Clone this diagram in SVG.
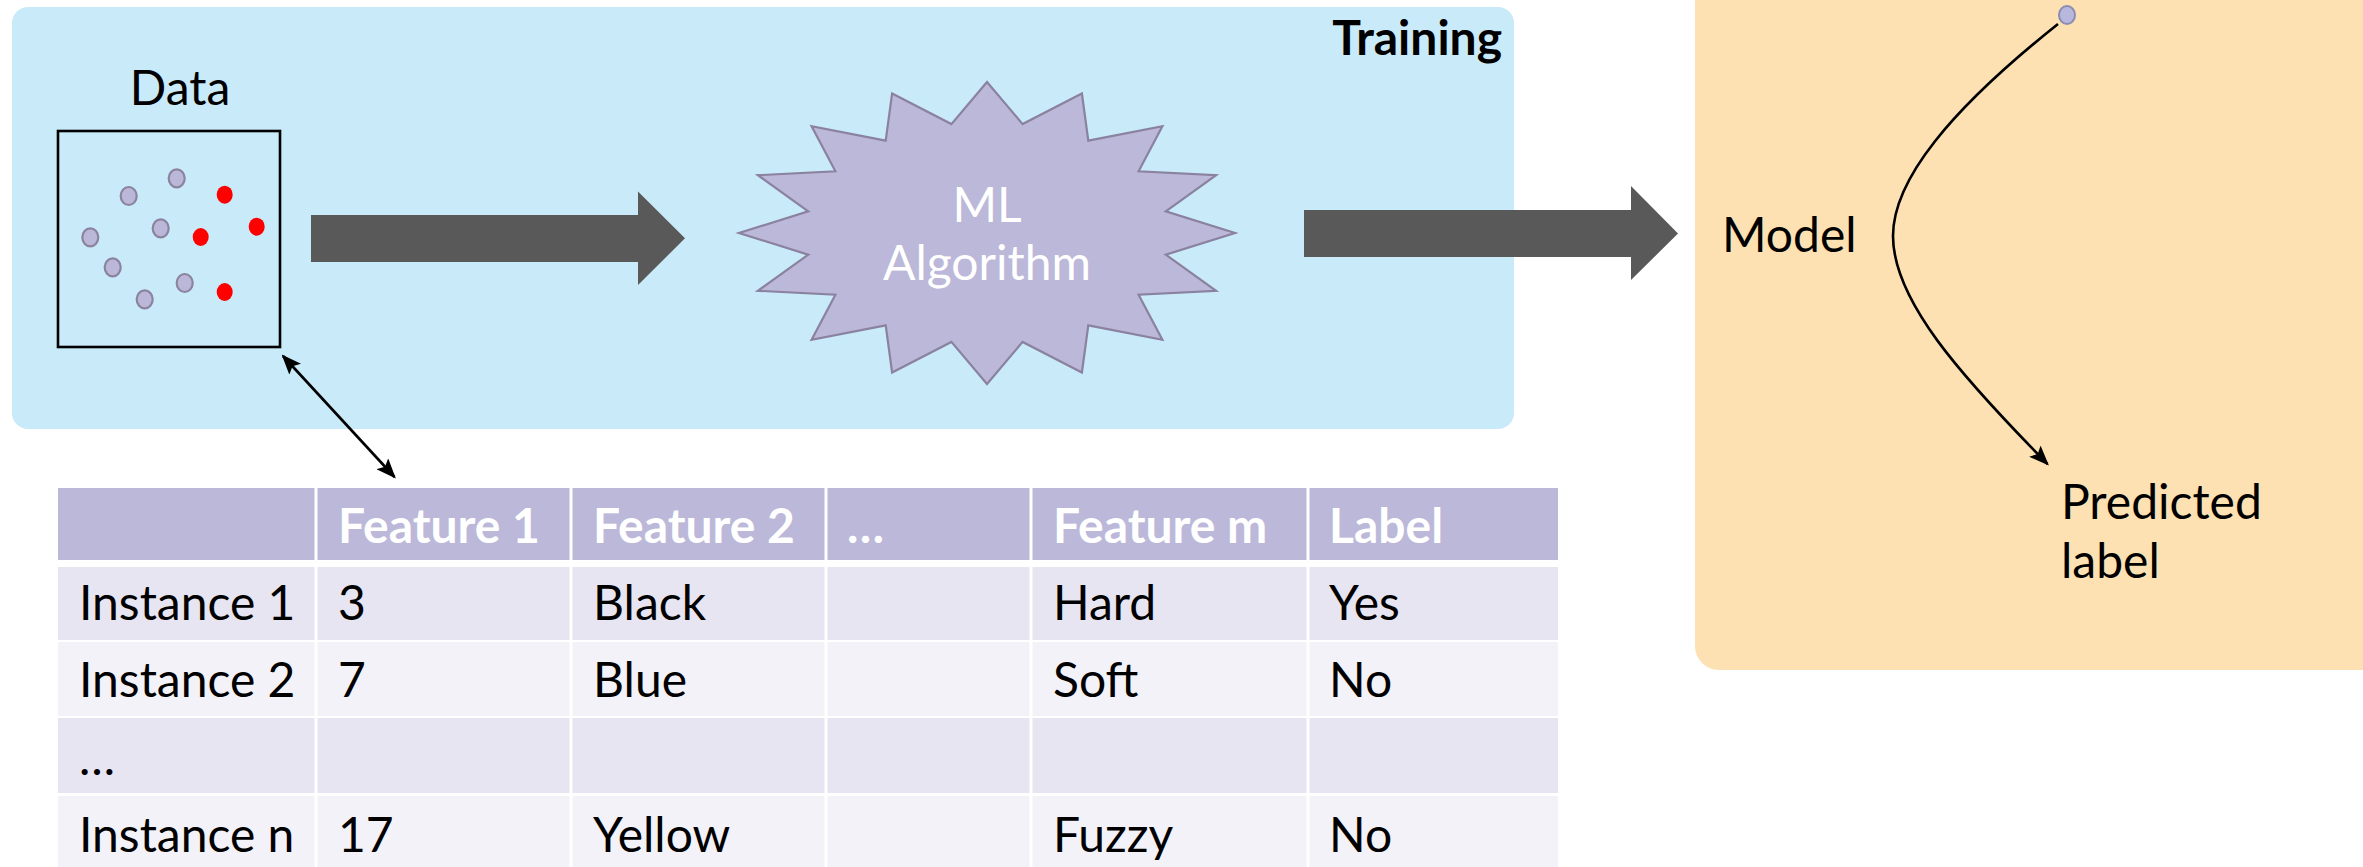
<svg xmlns="http://www.w3.org/2000/svg" width="2363" height="867" viewBox="0 0 2363 867">
<style>
  text { font-family: Lato, "Open Sans", "Liberation Sans", sans-serif; font-size: 48px; fill: #000; }
  .b { font-weight: bold; }
  .w { fill: #fff; }
  .hdr { fill: #fff; font-weight: bold; }
  .pdot { fill: #BAB7D8; stroke: #8C849E; stroke-width: 2.2; }
  .rdot { fill: #FF0000; }
  .big { fill: #595959; }
  .conn { fill: none; stroke: #000; stroke-width: 2.6; }
  .rowA { fill: #E7E5F1; }
  .rowB { fill: #F2F2F8; }
  .head { fill: #BCB8D9; }
</style>
<defs>
  <marker id="ah" markerUnits="userSpaceOnUse" markerWidth="20" markerHeight="16" viewBox="0 0 20 16" refX="18" refY="8" orient="auto-start-reverse">
    <path d="M0,0 L20,8 L0,16 L4,8 Z" fill="#000"/>
  </marker>
</defs>
<rect width="2363" height="867" fill="#fff"/>

<g id="training">
  <rect x="12" y="7" width="1502" height="422" rx="16" ry="16" fill="#C9EAF9"/>
  <text class="b" x="1502" y="55" text-anchor="end">Training</text>
</g>

<g id="model-panel">
  <rect x="1695" y="-40" width="720" height="710" rx="24" ry="24" fill="#FDE1B2"/>
  <text x="1722" y="252">Model</text>
  <text x="2061" y="519">Predicted</text>
  <text x="2061" y="578">label</text>
  <ellipse cx="2067" cy="15" rx="8" ry="9" fill="#B8B8DF" stroke="#8C8CB0" stroke-width="2"/>
</g>

<g id="data">
  <text x="180" y="105" text-anchor="middle">Data</text>
  <rect x="58" y="131" width="222" height="216" fill="none" stroke="#000" stroke-width="2.6"/>
  <ellipse class="pdot" cx="176.7" cy="178.3" rx="8" ry="9"/>
  <ellipse class="pdot" cx="128.7" cy="196" rx="8" ry="9"/>
  <ellipse class="pdot" cx="160.7" cy="228.3" rx="8" ry="9"/>
  <ellipse class="pdot" cx="90.3" cy="237.3" rx="8" ry="9"/>
  <ellipse class="pdot" cx="112.7" cy="267.3" rx="8" ry="9"/>
  <ellipse class="pdot" cx="184.7" cy="283" rx="8" ry="9"/>
  <ellipse class="pdot" cx="144.7" cy="299.3" rx="8" ry="9"/>
  <ellipse class="rdot" cx="224.7" cy="194.7" rx="8" ry="9"/>
  <ellipse class="rdot" cx="256.7" cy="226.7" rx="8" ry="9"/>
  <ellipse class="rdot" cx="200.7" cy="237" rx="8" ry="9"/>
  <ellipse class="rdot" cx="224.7" cy="292" rx="8" ry="9"/>
</g>

<g id="ml-algorithm">
  <path d="M987,82 L1022.6,124.1 L1081.9,93.5 L1088.3,140.7 L1162.4,126.2 L1138.6,171.3 L1216.1,175.2 L1165.8,211.3 L1235,233 L1165.8,254.7 L1216.1,290.8 L1138.6,294.7 L1162.4,339.8 L1088.3,325.3 L1081.9,372.5 L1022.6,341.9 L987,384 L951.4,341.9 L892.1,372.5 L885.7,325.3 L811.6,339.8 L835.4,294.7 L757.9,290.8 L808.2,254.7 L739,233 L808.2,211.3 L757.9,175.2 L835.4,171.3 L811.6,126.2 L885.7,140.7 L892.1,93.5 L951.4,124.1 Z" fill="#BBB8D9" stroke="#8A829E" stroke-width="2.2" stroke-linejoin="miter"/>
  <text class="w" x="987" y="222" text-anchor="middle">ML</text>
  <text class="w" x="987" y="280" text-anchor="middle">Algorithm</text>
</g>

<g id="table">
  <rect class="head" x="58" y="488" width="1500" height="72"/>
  <rect class="rowA" x="58" y="567" width="1500" height="73"/>
  <rect class="rowB" x="58" y="642" width="1500" height="74"/>
  <rect class="rowA" x="58" y="718" width="1500" height="75"/>
  <rect class="rowB" x="58" y="796" width="1500" height="75"/>
  <g stroke="#fff" stroke-width="3">
    <line x1="316" y1="486" x2="316" y2="870"/>
    <line x1="571" y1="486" x2="571" y2="870"/>
    <line x1="826" y1="486" x2="826" y2="870"/>
    <line x1="1031" y1="486" x2="1031" y2="870"/>
    <line x1="1308" y1="486" x2="1308" y2="870"/>
  </g>
  <text class="hdr" x="338" y="543">Feature 1</text>
  <text class="hdr" x="593" y="543">Feature 2</text>
  <text class="hdr" x="847" y="543">…</text>
  <text class="hdr" x="1053" y="543">Feature m</text>
  <text class="hdr" x="1329" y="543">Label</text>

  <text x="79" y="620">Instance 1</text>
  <text x="338" y="620">3</text>
  <text x="593" y="620">Black</text>
  <text x="1053" y="620">Hard</text>
  <text x="1329" y="620">Yes</text>

  <text x="79" y="697">Instance 2</text>
  <text x="338" y="697">7</text>
  <text x="593" y="697">Blue</text>
  <text x="1053" y="697">Soft</text>
  <text x="1329" y="697">No</text>

  <text x="79" y="775">…</text>

  <text x="79" y="852">Instance n</text>
  <text x="338" y="852">17</text>
  <text x="593" y="852">Yellow</text>
  <text x="1053" y="852">Fuzzy</text>
  <text x="1329" y="852">No</text>
</g>

<g id="connectors">
  <path class="big" d="M311,215 L638,215 L638,191.5 L685,238.3 L638,285 L638,262 L311,262 Z"/>
  <path class="big" d="M1304,210 L1631,210 L1631,186 L1678,233.5 L1631,280 L1631,257 L1304,257 Z"/>
  <line class="conn" x1="283" y1="356" x2="394.5" y2="477" marker-start="url(#ah)" marker-end="url(#ah)"/>
  <path class="conn" d="M2058,24 C1950,110 1893,180 1893,236 C1893,300 1960,375 2047.5,464" marker-end="url(#ah)"/>
</g>
</svg>
